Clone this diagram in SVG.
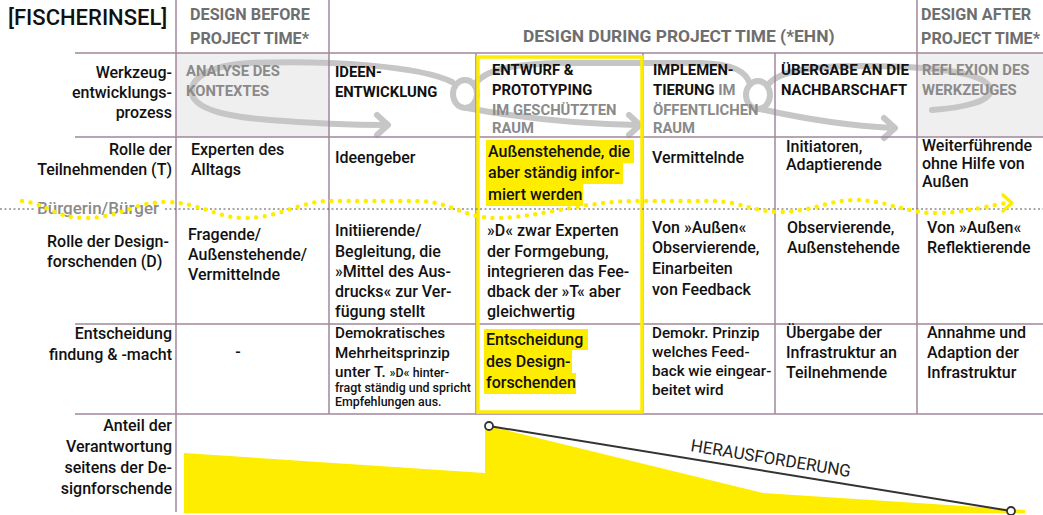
<svg xmlns="http://www.w3.org/2000/svg" width="1043" height="515" viewBox="0 0 1043 515">
<style>
.t{font-family:Roboto,"Liberation Sans",sans-serif;font-weight:500;font-size:16px;fill:#111}
.e{text-anchor:end}
.ph{font-weight:700;font-size:14.8px}
.g{fill:#8a8a8a}
.hd{font-family:Roboto,"Liberation Sans",sans-serif;font-weight:700;font-size:16.2px;fill:#6e6e6e}
.s15{font-size:15.2px}
.s11{font-size:12.4px}
.grid{stroke:#a2879b;stroke-width:1.5;fill:none}
.loop{stroke:#c6c6c6;stroke-width:6;fill:none;stroke-linecap:round;stroke-linejoin:round}
.hl{fill:#ffed00}
</style>
<rect width="1043" height="515" fill="#fff"/>
<g id="shading">
<rect x="176" y="53" width="153" height="84" fill="#efefef"/>
<rect x="917" y="53" width="126" height="84" fill="#efefef"/>
</g>
<g id="connectors">
<path class="loop" d="M452,82 C420,66 330,60 250,63 C210,65 190,78 192,93 C194,110 230,117 270,120 C320,124 360,125 386,125"/>
<path class="loop" d="M377,115 L388,125 L377,135"/>
<ellipse class="loop" cx="465" cy="94" rx="12" ry="14"/>
<path class="loop" d="M467,108 C520,118 580,124 638,125"/>
<path class="loop" d="M629,115 L640,125 L629,135"/>
<path class="loop" d="M475,84 C485,70 510,64 560,63 L700,63 C735,64 746,72 750,84"/>
<ellipse class="loop" cx="758" cy="95" rx="12" ry="14"/>
<path class="loop" d="M760,109 C800,118 850,126 893,128"/>
<path class="loop" d="M884,118 L895,128 L884,138"/>
<path class="loop" d="M768,85 C778,71 810,66 860,66 C930,66 985,72 990,88 C994,102 960,108 932,110"/>
</g>
<g id="grid">
<path class="grid" d="M176,0 V512 M329,0 V414 M917,0 V414 M476,53 V414 M643,53 V414 M775,53 V414"/>
<path class="grid" d="M75,53 H1043 M75,137 H1043 M75,324 H1043 M75,414 H1043"/>
</g>
<g id="highlights">
<rect class="hl" x="486" y="140" width="148" height="23"/>
<rect class="hl" x="486" y="163" width="137" height="21"/>
<rect class="hl" x="486" y="184" width="97" height="22"/>
<rect class="hl" x="484" y="329" width="104" height="21"/>
<rect class="hl" x="484" y="350" width="88" height="23"/>
<rect class="hl" x="484" y="373" width="92" height="21"/>
<rect x="478" y="57" width="164" height="355" fill="none" stroke="#ffed00" stroke-width="3.5"/>
</g>
<g id="header">
<text class="t" x="8" y="25" style="font-size:22px">[FISCHERINSEL]</text>
<text class="hd" x="190" y="20">DESIGN BEFORE</text>
<text class="hd" x="190" y="44">PROJECT TIME*</text>
<text class="hd" x="523" y="42" style="font-size:17.4px">DESIGN DURING PROJECT TIME (*EHN)</text>
<text class="hd" x="921" y="20">DESIGN AFTER</text>
<text class="hd" x="921" y="44">PROJECT TIME*</text>
</g>
<g id="row-labels">
<text class="t e" x="172" y="78">Werkzeug-</text>
<text class="t e" x="172" y="98">entwicklungs-</text>
<text class="t e" x="172" y="118">prozess</text>
<text class="t e" x="172" y="155">Rolle der</text>
<text class="t e" x="172" y="175">Teilnehmenden (T)</text>
<text class="t g" x="37" y="214" style="font-size:17px">Bürgerin/Bürger</text>
<text class="t" x="47" y="247">Rolle der Design-</text>
<text class="t" x="47" y="267">forschenden (D)</text>
<text class="t e" x="172" y="339">Entscheidung</text>
<text class="t e" x="172" y="360">findung &amp; -macht</text>
<text class="t e" x="172" y="431">Anteil der</text>
<text class="t e" x="172" y="452">Verantwortung</text>
<text class="t e" x="172" y="473">seitens der De-</text>
<text class="t e" x="172" y="494">signforschende</text>
</g>
<g id="phase-analyse">
<text class="t ph g" x="186" y="76">ANALYSE DES</text>
<text class="t ph g" x="186" y="96">KONTEXTES</text>
<text class="t" x="191" y="155">Experten des</text>
<text class="t" x="191" y="175">Alltags</text>
<text class="t" x="188" y="240">Fragende/</text>
<text class="t" x="188" y="260">Außenstehende/</text>
<text class="t" x="188" y="280">Vermittelnde</text>
<text class="t" x="238" y="357" text-anchor="middle">-</text>
</g>
<g id="phase-ideen">
<text class="t ph" x="335" y="77">IDEEN-</text>
<text class="t ph" x="335" y="97">ENTWICKLUNG</text>
<text class="t" x="335" y="163">Ideengeber</text>
<text class="t" x="335" y="236">Initiierende/</text>
<text class="t" x="335" y="257">Begleitung, die</text>
<text class="t" x="335" y="277">»Mittel des Aus-</text>
<text class="t" x="335" y="297">drucks« zur Ver-</text>
<text class="t" x="335" y="317">fügung stellt</text>
<text class="t s15" x="335" y="338">Demokratisches</text>
<text class="t s15" x="335" y="358">Mehrheitsprinzip</text>
<text class="t s15" x="335" y="377">unter T. <tspan class="s11">»D« hinter-</tspan></text>
<text class="t s11" x="335" y="392">fragt ständig und spricht</text>
<text class="t s11" x="335" y="406">Empfehlungen aus.</text>
</g>
<g id="phase-entwurf">
<text class="t ph" x="492" y="75">ENTWURF &amp;</text>
<text class="t ph" x="492" y="95">PROTOTYPING</text>
<text class="t ph g" x="492" y="115">IM GESCHÜTZTEN</text>
<text class="t ph g" x="492" y="133">RAUM</text>
<text class="t" x="488" y="157">Außenstehende, die</text>
<text class="t" x="488" y="178">aber ständig infor-</text>
<text class="t" x="488" y="200">miert werden</text>
<text class="t" x="487" y="236">»D« zwar Experten</text>
<text class="t" x="487" y="257">der Formgebung,</text>
<text class="t" x="487" y="277">integrieren das Fee-</text>
<text class="t" x="487" y="297">dback der »T« aber</text>
<text class="t" x="487" y="317">gleichwertig</text>
<text class="t" x="486" y="345">Entscheidung</text>
<text class="t" x="486" y="367">des Design-</text>
<text class="t" x="486" y="388">forschenden</text>
</g>
<g id="phase-implementierung">
<text class="t ph" x="653" y="75">IMPLEMEN-</text>
<text class="t ph" x="653" y="95">TIERUNG <tspan class="g">IM</tspan></text>
<text class="t ph g" x="653" y="115">ÖFFENTLICHEN</text>
<text class="t ph g" x="653" y="133">RAUM</text>
<text class="t" x="652" y="163">Vermittelnde</text>
<text class="t" x="652" y="233">Von »Außen«</text>
<text class="t" x="652" y="253">Observierende,</text>
<text class="t" x="652" y="274">Einarbeiten</text>
<text class="t" x="652" y="295">von Feedback</text>
<text class="t s15" x="652" y="338">Demokr. Prinzip</text>
<text class="t s15" x="652" y="357">welches Feed-</text>
<text class="t s15" x="652" y="376">back wie eingear-</text>
<text class="t s15" x="652" y="395">beitet wird</text>
</g>
<g id="phase-uebergabe">
<text class="t ph" x="781" y="75" textLength="128" lengthAdjust="spacingAndGlyphs">ÜBERGABE AN DIE</text>
<text class="t ph" x="781" y="95">NACHBARSCHAFT</text>
<text class="t" x="786" y="152">Initiatoren,</text>
<text class="t" x="786" y="170">Adaptierende</text>
<text class="t" x="787" y="233">Observierende,</text>
<text class="t" x="787" y="253">Außenstehende</text>
<text class="t" x="786" y="338">Übergabe der</text>
<text class="t" x="786" y="358">Infrastruktur an</text>
<text class="t" x="786" y="378">Teilnehmende</text>
</g>
<g id="phase-reflexion">
<text class="t ph g" x="922" y="75">REFLEXION DES</text>
<text class="t ph g" x="922" y="95">WERKZEUGES</text>
<text class="t" x="922" y="151">Weiterführende</text>
<text class="t" x="922" y="169">ohne Hilfe von</text>
<text class="t" x="922" y="187">Außen</text>
<text class="t" x="927" y="233">Von »Außen«</text>
<text class="t" x="927" y="253">Reflektierende</text>
<text class="t" x="927" y="338">Annahme und</text>
<text class="t" x="927" y="358">Adaption der</text>
<text class="t" x="927" y="378">Infrastruktur</text>
</g>
<g id="divider">
<path d="M0,209 H35 M165,209 H1043" stroke="#555" stroke-width="1.2" stroke-dasharray="2 2.5" fill="none"/>
<path d="M22,201 C45,203 55,218 85,218 C120,218 135,202 165,202 C200,202 215,218 245,218 C280,218 300,201 330,201 L420,201 C450,202 465,218 495,218 C540,218 580,201 640,201 L715,201 C740,202 755,212 780,212 C810,212 830,200 855,200 C885,200 905,213 935,213 C965,213 990,205 1008,203" fill="none" stroke="#ffed00" stroke-width="4.5" stroke-linecap="round" stroke-dasharray="0 8.6"/>
<path d="M1003,195 L1012,203 L1003,211" fill="none" stroke="#ffed00" stroke-width="3.5" stroke-linecap="round" stroke-linejoin="round"/>
</g>
<g id="chart">
<polygon points="184,453 485,473 485,425 763,493 1025,510 1025,513 184,513" fill="#ffed00"/>
<line x1="489" y1="426" x2="1011" y2="511" stroke="#333" stroke-width="2"/>
<circle cx="489" cy="426" r="4" fill="#fff" stroke="#333" stroke-width="1.8"/>
<circle cx="1011" cy="511" r="4" fill="#fff" stroke="#333" stroke-width="1.8"/>
<text class="t" x="690" y="451" transform="rotate(9.3 690 451)" style="font-weight:400;font-size:17px;fill:#222">HERAUSFORDERUNG</text>
</g>
</svg>
